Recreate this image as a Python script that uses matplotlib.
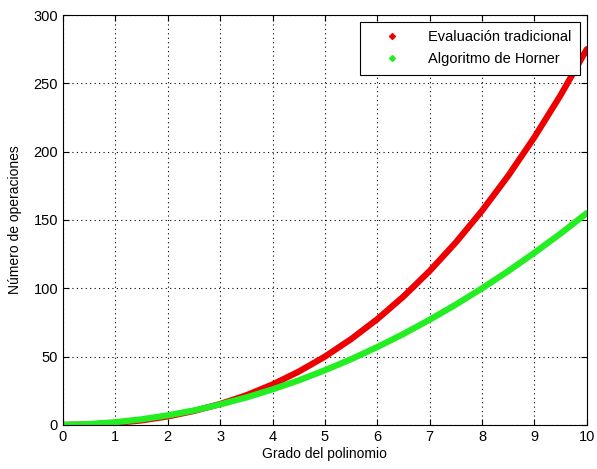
import matplotlib
matplotlib.use("Agg")
from matplotlib import pyplot as plt

plt.rcParams['font.family'] = ['Liberation Sans', 'DejaVu Sans']

# degree of the polynomial (read every 0.5)
grado = [0, 0.5, 1, 1.5, 2, 2.5, 3, 3.5, 4, 4.5, 5,
         5.5, 6, 6.5, 7, 7.5, 8, 8.5, 9, 9.5, 10]
# operation counts
tradicional = [0, 0.3, 1.4, 3.3, 6.2, 10.2, 15.3, 21.7, 29.6, 39, 50,
               62.8, 77.4, 94, 112.7, 133.6, 156.8, 182.4, 210.6, 241.4, 275]
horner = [0, 0.6, 2, 4.1, 7, 10.6, 15, 20.1, 26, 32.6, 40,
          48.1, 57, 66.6, 77, 88.1, 100, 112.6, 126, 140.1, 155]

fig = plt.figure(figsize=(5.97, 4.69), dpi=100)
ax = fig.add_axes([0.1055, 0.094, 0.8775, 0.874])

ax.plot(grado, tradicional, color='#ee0000', lw=4.5, solid_capstyle='round')
ax.plot(grado, horner, color='#22ee22', lw=4.5, solid_capstyle='round')

# legend with small diamond markers like the original
ax.plot([], [], 'D', color='#ee0000', ms=3, label='Evaluación tradicional')
ax.plot([], [], 'D', color='#22ee22', ms=3, label='Algoritmo de Horner')
leg = ax.legend(loc='upper right', fancybox=False, edgecolor='black',
                framealpha=1, fontsize=10.5, borderaxespad=0.45, borderpad=0.6,
                handlelength=3.2, handletextpad=0.9, labelspacing=0.55)
leg.get_frame().set_linewidth(0.8)

ax.set_xlim(0, 10)
ax.set_ylim(0, 300)
ax.set_xticks(range(0, 11))
ax.set_yticks(range(0, 301, 50))
ax.grid(True, color='black', linestyle=(0, (1, 3)), linewidth=0.8)
ax.tick_params(direction='in', top=True, right=True, labelsize=10.5, length=4)
for s in ax.spines.values():
    s.set_linewidth(0.8)

ax.set_xlabel('Grado del polinomio', fontsize=10, labelpad=2)
ax.set_ylabel('Número de operaciones', fontsize=10, labelpad=8)

plt.savefig('out.png', dpi=100)
